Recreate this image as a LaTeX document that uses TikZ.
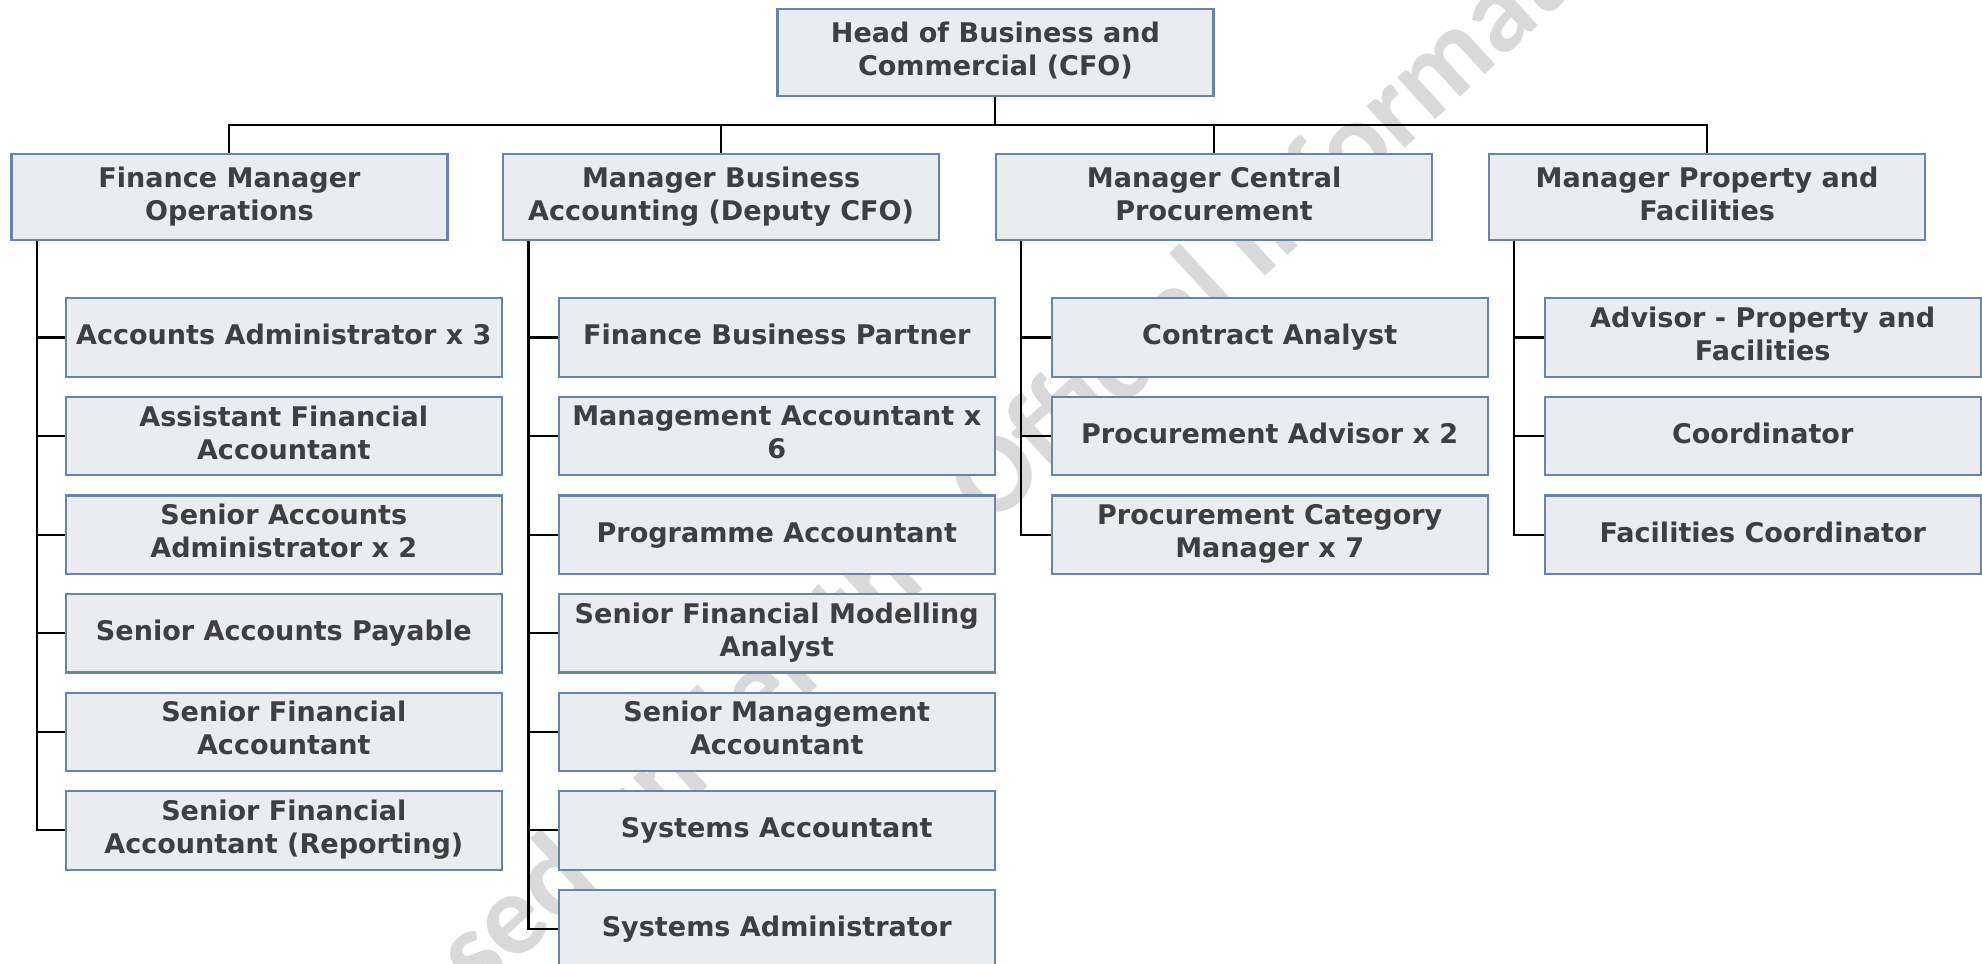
\documentclass[tikz,border=0pt]{standalone}
\usepackage{fontspec}
\setmainfont{DejaVu Sans}
\newfontfamily\wmfont{Carlito}
\newcommand\bxstrut{\rule[-6pt]{0pt}{23.6pt}}
\definecolor{boxfill}{HTML}{E9ECF1}
\definecolor{boxline}{HTML}{6B83A6}
\definecolor{boxtext}{HTML}{3F3F41}
\begin{document}
\begin{tikzpicture}[x=1pt,y=-1pt,
  orgbox/.style={rectangle, draw=boxline, fill=boxfill, line width=1.8pt,
    minimum width=345pt, inner sep=0pt, align=center, text=boxtext,
    font=\fontsize{21.4}{26}\selectfont\bfseries,
    execute at begin node=\bxstrut, execute at end node=\bxstrut},
  headbox/.style={orgbox, minimum height=69pt},
  mgrbox/.style={orgbox, minimum height=68pt},
  rolebox/.style={orgbox, minimum height=62pt},
  link/.style={draw=black, line width=1.6pt}]
\useasboundingbox (0,0) rectangle (1568,762);
\fill[white] (0,0) rectangle (1568,762);

% watermark (behind the boxes)
\node[rotate=42.5, text=black, opacity=0.15, inner sep=0pt,
  font=\fontsize{92}{100}\wmfont\bfseries] (wm) at (810,350) {Released under the Official Information Act};

% head
\node[headbox] (top) at (787.5,41.5) {Head of Business and\\Commercial (CFO)};

% managers
\node[mgrbox] (m1) at (181.5,156) {Finance Manager\\Operations};
\node[mgrbox] (m2) at (570.5,156) {Manager Business\\Accounting (Deputy CFO)};
\node[mgrbox] (m3) at (960.5,156) {Manager Central\\Procurement};
\node[mgrbox] (m4) at (1350.5,156) {Manager Property and\\Facilities};

% column 1
\node[rolebox] (a1) at (224.5,267) {Accounts Administrator x 3};
\node[rolebox] (a2) at (224.5,345) {Assistant Financial\\Accountant};
\node[rolebox] (a3) at (224.5,423) {Senior Accounts\\Administrator x 2};
\node[rolebox] (a4) at (224.5,501) {Senior Accounts Payable};
\node[rolebox] (a5) at (224.5,579) {Senior Financial\\Accountant};
\node[rolebox] (a6) at (224.5,657) {Senior Financial\\Accountant (Reporting)};

% column 2
\node[rolebox] (b1) at (614.5,267) {Finance Business Partner};
\node[rolebox] (b2) at (614.5,345) {Management Accountant x\\6};
\node[rolebox] (b3) at (614.5,423) {Programme Accountant};
\node[rolebox] (b4) at (614.5,501) {Senior Financial Modelling\\Analyst};
\node[rolebox] (b5) at (614.5,579) {Senior Management\\Accountant};
\node[rolebox] (b6) at (614.5,657) {Systems Accountant};
\node[rolebox] (b7) at (614.5,735) {Systems Administrator};

% column 3
\node[rolebox] (c1) at (1004.5,267) {Contract Analyst};
\node[rolebox] (c2) at (1004.5,345) {Procurement Advisor x 2};
\node[rolebox] (c3) at (1004.5,423) {Procurement Category\\Manager x 7};

% column 4
\node[rolebox] (d1) at (1394.5,267) {Advisor - Property and\\Facilities};
\node[rolebox] (d2) at (1394.5,345) {Coordinator};
\node[rolebox] (d3) at (1394.5,423) {Facilities Coordinator};

% connectors: head to managers
\coordinate (bus) at (0,99);
\draw[link] (top.south) -- (top.south |- bus);
\draw[link] (m1.north) -- (m1.north |- bus) -- (m4.north |- bus) -- (m4.north);
\draw[link] (m2.north) -- (m2.north |- bus);
\draw[link] (m3.north) -- (m3.north |- bus);

% spines
\coordinate (s1) at ([xshift=21pt]m1.south west);
\coordinate (s2) at ([xshift=21pt]m2.south west);
\coordinate (s3) at ([xshift=21pt]m3.south west);
\coordinate (s4) at ([xshift=21pt]m4.south west);
\draw[link] (s1) |- (a6.west);
\foreach \n in {a1,a2,a3,a4,a5} \draw[link] (\n.west) -- (\n.west -| s1);
\draw[link] (s2) |- (b7.west);
\foreach \n in {b1,b2,b3,b4,b5,b6} \draw[link] (\n.west) -- (\n.west -| s2);
\draw[link] (s3) |- (c3.west);
\foreach \n in {c1,c2} \draw[link] (\n.west) -- (\n.west -| s3);
\draw[link] (s4) |- (d3.west);
\foreach \n in {d1,d2} \draw[link] (\n.west) -- (\n.west -| s4);
\end{tikzpicture}
\end{document}
